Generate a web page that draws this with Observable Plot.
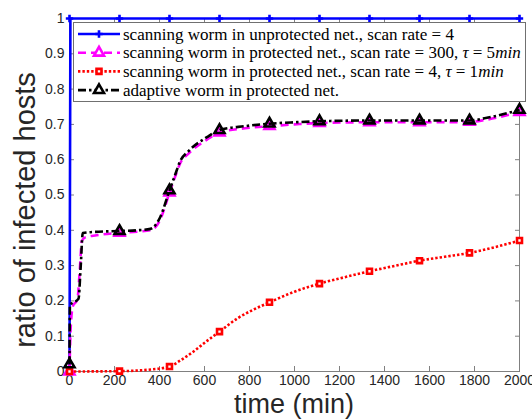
<!DOCTYPE html>
<html><head><meta charset="utf-8">
<script src="https://cdn.jsdelivr.net/npm/d3@7"></script>
<script src="https://cdn.jsdelivr.net/npm/@observablehq/plot@0.6"></script>
<style>body{margin:0;background:#fff}</style>
</head><body><div id="chart"></div>
<script>
// ---- data ----
const markerTimes = [0, 222.2, 444.4, 666.7, 888.9, 1111.1, 1333.3, 1555.6, 1777.8, 2000];

const unprotTime  = [0, 4, 2000];
const unprotValue = [0, 1, 1];
const unprotMarkerValue = [1, 1, 1, 1, 1, 1, 1, 1, 1, 1];

const prot300Time  = [0, 5, 15, 35, 45, 55, 70, 120, 222.2, 300, 360, 403, 444.4, 470, 492, 530, 611, 666.7, 780, 888.9, 1000, 1111.1, 1333.3, 1555.6, 1777.8, 1850, 2000];
const prot300Value = [0, 0.12, 0.185, 0.204, 0.28, 0.37, 0.38, 0.386, 0.393, 0.396, 0.400, 0.43, 0.507, 0.553, 0.59, 0.618, 0.657, 0.677, 0.689, 0.695, 0.700, 0.704, 0.706, 0.706, 0.707, 0.713, 0.735];
const prot300MarkerValue = [0, 0.393, 0.507, 0.677, 0.695, 0.704, 0.706, 0.706, 0.707, 0.735];

const prot4Time  = [0, 222.2, 350, 444.4, 492, 550, 610, 666.7, 750, 820, 888.9, 1000, 1111.1, 1222, 1333.3, 1444, 1555.6, 1667, 1777.8, 1889, 2000];
const prot4Value = [0, 0.001, 0.005, 0.014, 0.031, 0.056, 0.086, 0.113, 0.152, 0.176, 0.196, 0.226, 0.249, 0.267, 0.284, 0.299, 0.314, 0.325, 0.336, 0.352, 0.371];
const prot4MarkerValue = [0, 0.001, 0.014, 0.113, 0.196, 0.249, 0.284, 0.314, 0.336, 0.371];

const adaptiveTime  = [0, 2, 10, 40, 50, 59, 100, 222.2, 300, 360, 403, 444.4, 470, 492, 530, 611, 666.7, 780, 888.9, 1000, 1111.1, 1333.3, 1555.6, 1777.8, 1850, 2000];
const adaptiveValue = [0.02, 0.19, 0.193, 0.206, 0.3, 0.392, 0.395, 0.398, 0.400, 0.404, 0.437, 0.513, 0.558, 0.596, 0.625, 0.664, 0.684, 0.695, 0.702, 0.706, 0.709, 0.711, 0.711, 0.711, 0.718, 0.741];
const adaptiveMarkerValue = [0.02, 0.398, 0.513, 0.684, 0.702, 0.709, 0.711, 0.711, 0.711, 0.741];

const xTicks = [0, 200, 400, 600, 800, 1000, 1200, 1400, 1600, 1800, 2000];
const yTicks = [0, 0.1, 0.2, 0.3, 0.4, 0.5, 0.6, 0.7, 0.8, 0.9, 1];
const xLabel = "time (min)";
const yLabel = "ratio of infected hosts";

// legend labels: [text, italic?] parts
const legendLabels = [
  [["scanning worm in unprotected net., scan rate = 4", false]],
  [["scanning worm in protected net., scan rate = 300, ", false], ["τ", true], [" = 5", false], ["min", true]],
  [["scanning worm in protected net., scan rate = 4, ", false], ["τ", true], [" = 1", false], ["min", true]],
  [["adaptive worm in protected net.", false]]
];

// ---- styles ----
const LW = 2.6;
const styles = [
  {color: "#0000ff", dash: null,        symbol: "plus",     r: 2.5, fill: "none"},
  {color: "#ff00ff", dash: "8,5",       symbol: "triangle", r: 3.7, fill: "none"},
  {color: "#ff0000", dash: "2.4,2",     symbol: "square",   r: 2.8, fill: "white"},
  {color: "#000000", dash: "8,3,2.5,3", symbol: "triangle", r: 3.7, fill: "none"}
];

const toRows = (ts, vs) => ts.map((t, i) => ({t, v: vs[i]}));
const series = [
  {line: toRows(unprotTime, unprotValue),     marks: toRows(markerTimes, unprotMarkerValue)},
  {line: toRows(prot300Time, prot300Value),   marks: toRows(markerTimes, prot300MarkerValue)},
  {line: toRows(prot4Time, prot4Value),       marks: toRows(markerTimes, prot4MarkerValue)},
  {line: toRows(adaptiveTime, adaptiveValue), marks: toRows(markerTimes, adaptiveMarkerValue)}
];

const dataMarks = [];
series.forEach((s, i) => {
  const st = styles[i];
  dataMarks.push(Plot.line(s.line, {x: "t", y: "v", stroke: st.color, strokeWidth: LW,
    strokeDasharray: st.dash || undefined, strokeLinecap: "butt",
    curve: i === 0 ? "linear" : "monotone-x", strokeLinejoin: "round"}));
  dataMarks.push(Plot.dot(s.marks, {x: "t", y: "v", symbol: st.symbol, r: st.r, stroke: st.color,
    strokeWidth: LW, fill: st.fill}));
});

const axisGray = "#808080";
const textGray = "#262626";

const plot = Plot.plot({
  width: 532, height: 419,
  marginLeft: 69, marginRight: 13, marginTop: 18, marginBottom: 48,
  style: {fontFamily: "'Liberation Sans', Arial, sans-serif", fontSize: "14px", background: "white", overflow: "visible"},
  x: {domain: [0, 2000]},
  y: {domain: [0, 1]},
  marks: [
    Plot.frame({stroke: axisGray}),
    Plot.axisX({anchor: "bottom", ticks: xTicks, tickSize: -5, tickPadding: 9, tickFormat: d => String(d), label: null, stroke: axisGray, fill: textGray}),
    Plot.axisX({anchor: "top", ticks: xTicks, tickSize: -5, tickFormat: () => "", label: null, stroke: axisGray}),
    Plot.axisY({anchor: "left", ticks: yTicks, tickSize: -5, tickPadding: 10, tickFormat: d3.format("~g"), label: null, stroke: axisGray, fill: textGray}),
    Plot.axisY({anchor: "right", ticks: yTicks, tickSize: -5, tickFormat: () => "", label: null, stroke: axisGray}),
    ...dataMarks
  ]
});

document.getElementById("chart").appendChild(plot);

// ---- axis labels ----
const svg = d3.select(plot);
svg.append("text").attr("x", 294).attr("y", 413).attr("text-anchor", "middle")
  .attr("font-family", "'Liberation Sans', Arial, sans-serif").attr("font-size", 27).attr("fill", textGray).text(xLabel);
svg.append("text").attr("transform", "translate(35,210) rotate(-90)").attr("text-anchor", "middle")
  .attr("font-family", "'Liberation Sans', Arial, sans-serif").attr("font-size", 29).attr("fill", textGray).text(yLabel);

// ---- legend ----
const lg = svg.append("g").attr("text-anchor", "start");
lg.append("rect").attr("x", 73.5).attr("y", 22.5).attr("width", 452).attr("height", 79)
  .attr("fill", "white").attr("stroke", "#707070").attr("stroke-width", 1);
const rowY = i => 34 + i * 18.7;
const fontFam = "'Liberation Serif', 'DejaVu Serif', serif";
const texts = [];
legendLabels.forEach((parts, i) => {
  const st = styles[i];
  const y = rowY(i);
  lg.append("line").attr("x1", 78).attr("x2", 120).attr("y1", y).attr("y2", y)
    .attr("stroke", st.color).attr("stroke-width", LW).attr("stroke-linecap", "butt")
    .attr("stroke-dasharray", st.dash || null);
  const symType = {plus: d3.symbolPlus, triangle: d3.symbolTriangle, square: d3.symbolSquare}[st.symbol];
  lg.append("path").attr("transform", `translate(99,${y})`)
    .attr("d", d3.symbol(symType, Math.PI * st.r * st.r)())
    .attr("stroke", st.color).attr("stroke-width", LW).attr("fill", st.fill === "none" ? "white" : st.fill);
  const t = lg.append("text").attr("x", 123).attr("y", y + 5.5).attr("text-anchor", "start")
    .attr("font-family", fontFam).attr("font-size", 16).attr("fill", "#000");
  parts.forEach(([s, it]) => t.append("tspan").attr("font-style", it ? "italic" : null).text(s));
  texts.push(t);
});
// fit font so that the second (longest) row spans ~398px like the reference
const w1 = texts[1].node().getComputedTextLength();
const fs = 16 * 398 / w1;
texts.forEach(t => t.attr("font-size", fs));
</script>
</body></html>
